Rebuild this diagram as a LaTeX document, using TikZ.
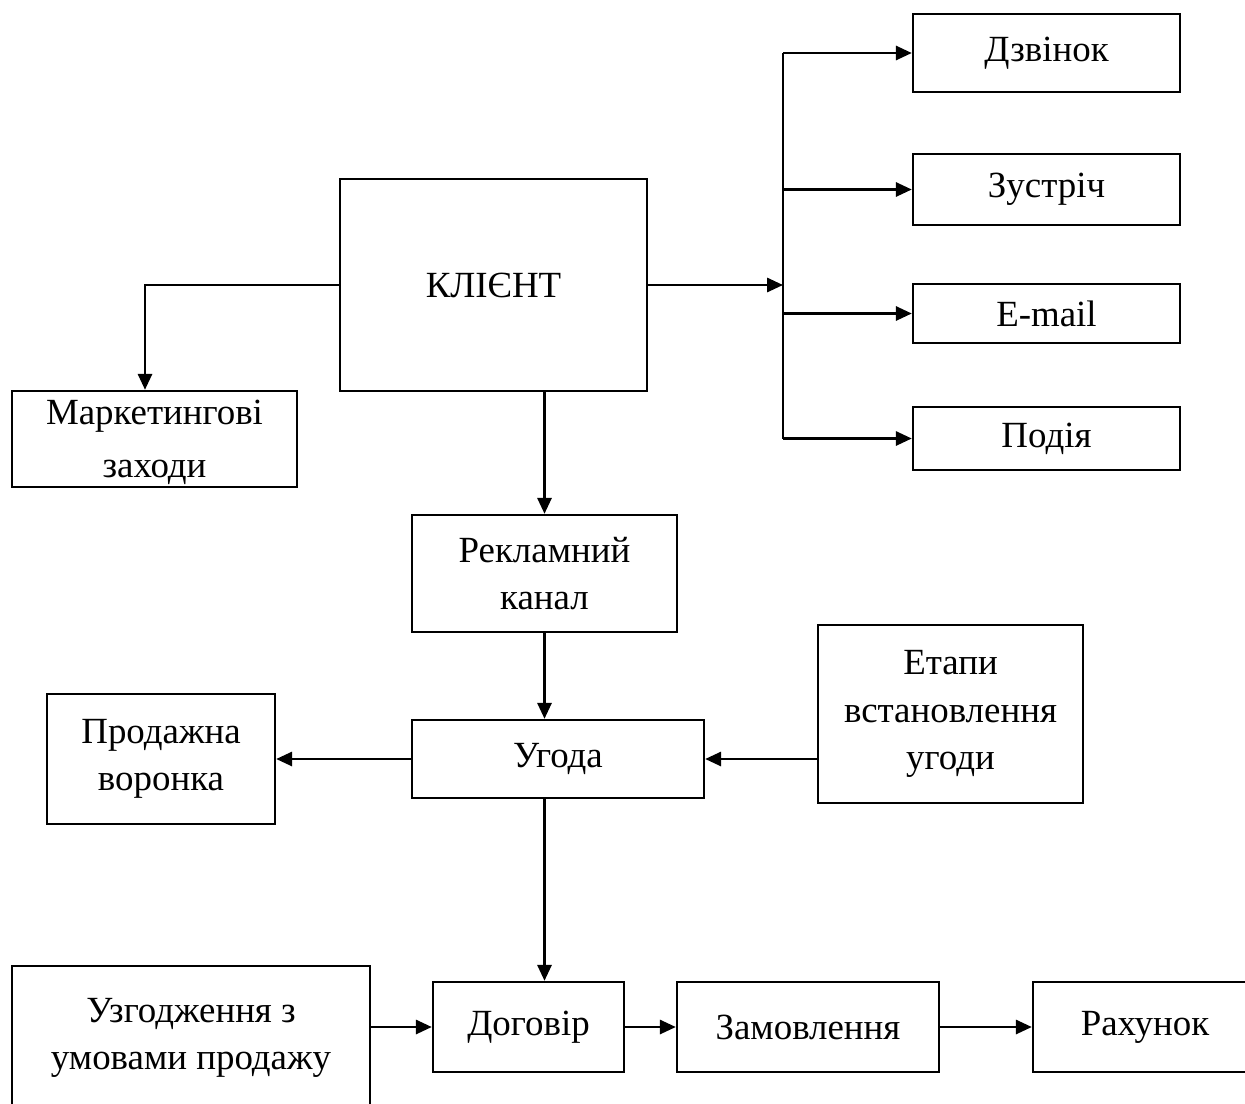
\documentclass[tikz,border=0pt]{standalone}
\usepackage{fontspec}
\setmainfont{Liberation Serif}
\usetikzlibrary{arrows.meta}

\tikzset{
  blok/.style={draw, line width=1.4pt, inner sep=0pt, align=center,
    font=\fontsize{21}{27}\selectfont},
  liniya/.style={line width=1.4pt},
  strilka/.style={line width=1.4pt, -{Triangle[length=9pt,width=8pt]}},
}

\begin{document}
\begin{tikzpicture}[x=0.02cm, y=-0.02cm]
  \useasboundingbox (0,0) rectangle (1245,1103);

  \node[blok, minimum width=6.14cm, minimum height=4.24cm] (klient) at (493.5,285) {КЛІЄНТ};

  \node[blok, minimum width=5.34cm, minimum height=1.56cm] (dzvinok) at (1046.5,53) {Дзвінок};
  \node[blok, minimum width=5.34cm, minimum height=1.42cm] (zustrich) at (1046.5,189.5) {Зустріч};
  \node[blok, minimum width=5.34cm, minimum height=1.18cm] (email) at (1046.5,313.5) {E-mail};
  \node[blok, minimum width=5.34cm, minimum height=1.26cm] (podiya) at (1046.5,438.5) {Подія};

  \node[blok, minimum width=5.70cm, minimum height=1.92cm] (marketing) at (154.5,439)
    {\raisebox{-2pt}[\height][\depth]{Маркетингові}\\[3pt]\raisebox{-2pt}[\height][\depth]{заходи}};
  \node[blok, minimum width=5.30cm, minimum height=2.34cm] (reklama) at (544.5,573.5) {Рекламний\\канал};
  \node[blok, minimum width=5.84cm, minimum height=1.56cm] (ugoda) at (558,759) {Угода};
  \node[blok, minimum width=5.30cm, minimum height=3.56cm] (etapy) at (950.5,714) {Етапи\\встановлення\\угоди};
  \node[blok, minimum width=4.56cm, minimum height=2.60cm] (prodazh) at (161,759) {Продажна\\воронка};

  \node[blok, minimum width=7.16cm, minimum height=2.88cm] (uzgod) at (191,1038) {Узгодження з\\умовами продажу};
  \node[blok, minimum width=3.82cm, minimum height=1.80cm] (dogovir) at (528.5,1027) {Договір};
  \node[blok, minimum width=5.24cm, minimum height=1.80cm] (zamovl) at (808,1027) {Замовлення};
  \node[blok, minimum width=4.48cm, minimum height=1.80cm] (rakhunok) at (1145,1027) {Рахунок};

  \coordinate (rozg) at (783,285);
  \coordinate (kut) at (145,285);

  \draw[strilka] (klient.east) -- (rozg);
  \draw[liniya] (rozg |- dzvinok.west) -- (rozg |- podiya.west);
  \foreach \n in {dzvinok,zustrich,email,podiya}
    \draw[strilka] (rozg |- \n.west) -- (\n.west);

  \draw[strilka] (klient.west) -- (kut) -- (kut |- marketing.north);
  \draw[strilka] (reklama.north |- klient.south) -- (reklama.north);
  \draw[strilka] (reklama.south) -- (reklama.south |- ugoda.north);
  \draw[strilka] (ugoda.west) -- (prodazh.east);
  \draw[strilka] (etapy.west |- ugoda.east) -- (ugoda.east);
  \draw[strilka] (reklama.south |- ugoda.south) -- (reklama.south |- dogovir.north);

  \draw[strilka] (uzgod.east |- dogovir.west) -- (dogovir.west);
  \draw[strilka] (dogovir.east) -- (zamovl.west);
  \draw[strilka] (zamovl.east) -- (rakhunok.west);
\end{tikzpicture}
\end{document}
